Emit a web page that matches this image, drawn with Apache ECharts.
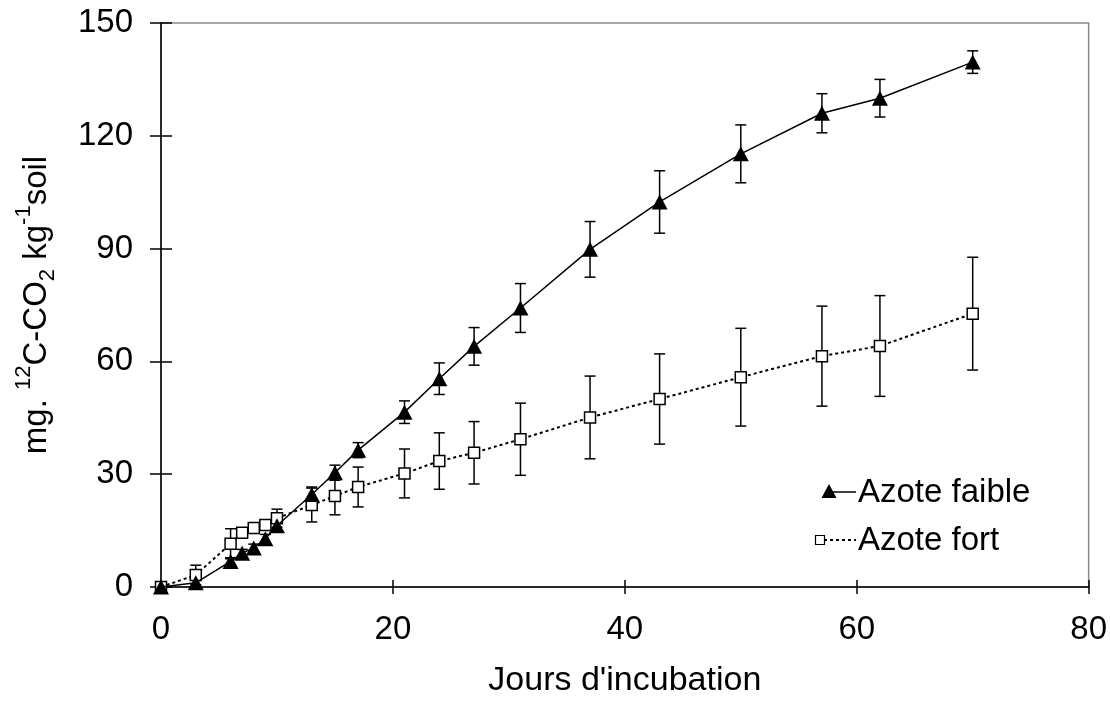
<!DOCTYPE html>
<html>
<head>
<meta charset="utf-8">
<script src="https://cdn.jsdelivr.net/npm/echarts@6/dist/echarts.min.js"></script>
<style>
html,body{margin:0;padding:0;background:#fff;}
#chart{width:1110px;height:716px;}
</style>
</head>
<body>
<div id="chart"></div>
<script>
const days = [0, 3, 6, 7, 8, 9, 10, 13, 15, 17, 21, 24, 27, 31, 37, 43, 50, 57, 62, 70];
const faible = [0, 1.1, 6.8, 9, 10.4, 12.8, 16.3, 24.6, 30.4, 36.4, 46.5, 55.4, 64, 74.2, 89.8, 102.4, 115.2, 126, 130, 139.6];
const faibleErr = [0, 1, 1, 1, 1, 1.2, 1.5, 2, 2, 2, 3, 4.2, 5, 6.5, 7.4, 8.3, 7.7, 5.2, 5, 3];
const fort = [0, 3.2, 11.5, 14.4, 15.7, 16.5, 18.3, 21.8, 24.2, 26.6, 30.2, 33.5, 35.7, 39.3, 45.1, 50, 55.8, 61.4, 64.1, 72.7];
const fortErr = [0, 2.6, 4, 1, 1, 1.2, 2.4, 4.5, 5, 5.3, 6.5, 7.5, 8.3, 9.6, 11, 12, 13, 13.3, 13.4, 15];
const xTicks = [0, 20, 40, 60, 80];
const yTicks = [0, 30, 60, 90, 120, 150];
const seriesNames = ['Azote faible', 'Azote fort'];

const FONT = '"Liberation Sans", Arial, sans-serif';
const chart = echarts.init(document.getElementById('chart'));

function errBars(vals, errs) {
  return days.map((d, i) => [d, vals[i], errs[i]]);
}
function renderErr(params, api) {
  const x = api.value(0), y = api.value(1), e = api.value(2);
  if (!e) return null;
  const t = api.coord([x, y + e]);
  const b = api.coord([x, y - e]);
  const hw = 5.5;
  const st = { stroke: '#000', lineWidth: 1.5 };
  return {
    type: 'group',
    children: [
      { type: 'line', shape: { x1: t[0], y1: t[1], x2: b[0], y2: b[1] }, style: st },
      { type: 'line', shape: { x1: t[0] - hw, y1: t[1], x2: t[0] + hw, y2: t[1] }, style: st },
      { type: 'line', shape: { x1: b[0] - hw, y1: b[1], x2: b[0] + hw, y2: b[1] }, style: st }
    ]
  };
}

const axisLbl = { fontFamily: FONT, fontSize: 33, color: '#000' };

const option = {
  animation: false,
  backgroundColor: '#fff',
  grid: { left: 161, right: 21, top: 23, bottom: 129, show: true, borderColor: '#8a8a8a', borderWidth: 1.5, backgroundColor: 'transparent' },
  xAxis: [
    {
      type: 'value', min: 0, max: 80, interval: 20,
      axisLine: { show: true, onZero: false, lineStyle: { color: '#000', width: 1.5 } },
      axisTick: { show: true, inside: false, length: 7, lineStyle: { color: '#000', width: 1.5 } },
      axisLabel: Object.assign({ margin: 26 }, axisLbl),
      splitLine: { show: false },
      name: 'Jours d\'incubation', nameLocation: 'middle', nameGap: 77,
      nameTextStyle: { fontFamily: FONT, fontSize: 34, color: '#000' }
    },
    {
      type: 'value', min: 0, max: 80, interval: 20, position: 'bottom',
      axisLine: { show: false },
      axisTick: { show: true, inside: true, length: 7, lineStyle: { color: '#000', width: 1.5 } },
      axisLabel: { show: false }, splitLine: { show: false }
    }
  ],
  yAxis: [
    {
      type: 'value', min: 0, max: 150, interval: 30,
      axisLine: { show: true, onZero: false, lineStyle: { color: '#000', width: 1.5 } },
      axisTick: { show: true, inside: false, length: 11, lineStyle: { color: '#000', width: 1.5 } },
      axisLabel: Object.assign({ margin: 28 }, axisLbl),
      splitLine: { show: false },
      name: '{n|mg. }{sup|12}{n|C-CO}{sub|2}{n| kg}{sup|-1}{n|soil}',
      nameLocation: 'middle', nameGap: 108, nameRotate: 90,
      nameTextStyle: {
        fontFamily: FONT, fontSize: 33, color: '#000',
        rich: {
          n: { fontFamily: FONT, fontSize: 33, color: '#000', lineHeight: 40, verticalAlign: 'bottom' },
          sup: { fontFamily: FONT, fontSize: 22, color: '#000', lineHeight: 40, verticalAlign: 'top' },
          sub: { fontFamily: FONT, fontSize: 22, color: '#000', lineHeight: 40, verticalAlign: 'bottom', padding: [0, 0, -6, 0] }
        }
      }
    },
    {
      type: 'value', min: 0, max: 150, interval: 30, position: 'left',
      axisLine: { show: false },
      axisTick: { show: true, inside: true, length: 11, lineStyle: { color: '#000', width: 1.5 } },
      axisLabel: { show: false }, splitLine: { show: false }
    }
  ],
  series: [
    {
      type: 'custom', name: 'errFaible', renderItem: renderErr, data: errBars(faible, faibleErr),
      xAxisIndex: 0, yAxisIndex: 0, z: 1, silent: true, clip: false
    },
    {
      type: 'custom', name: 'errFort', renderItem: renderErr, data: errBars(fort, fortErr),
      xAxisIndex: 0, yAxisIndex: 0, z: 1, silent: true, clip: false
    },
    {
      type: 'line', name: seriesNames[1], data: days.map((d, i) => [d, fort[i]]),
      symbol: 'rect', symbolSize: 11, showAllSymbol: true,
      lineStyle: { color: '#000', width: 2, type: [3, 3] },
      itemStyle: { color: '#fff', borderColor: '#000', borderWidth: 1.5 },
      z: 3
    },
    {
      type: 'line', name: seriesNames[0], data: days.map((d, i) => [d, faible[i]]),
      symbol: 'triangle', symbolSize: [16, 15], showAllSymbol: true,
      lineStyle: { color: '#000', width: 1.5 },
      itemStyle: { color: '#000', borderWidth: 0 },
      z: 4
    }
  ],
  graphic: [
    { type: 'line', shape: { x1: 830, y1: 492, x2: 856, y2: 492 }, style: { stroke: '#000', lineWidth: 1.5 } },
    { type: 'polygon', shape: { points: [[829, 484], [836.5, 498], [821.5, 498]] }, style: { fill: '#000' } },
    { type: 'text', left: 858, top: 476, style: { text: seriesNames[0], font: '33px ' + FONT, fill: '#000' } },
    { type: 'line', shape: { x1: 824, y1: 540, x2: 856, y2: 540 }, style: { stroke: '#000', lineWidth: 2, lineDash: [3, 3] } },
    { type: 'rect', shape: { x: 815.5, y: 535.5, width: 9, height: 9 }, style: { fill: '#fff', stroke: '#000', lineWidth: 1.2 } },
    { type: 'text', left: 858, top: 524, style: { text: seriesNames[1], font: '33px ' + FONT, fill: '#000' } }
  ]
};
chart.setOption(option);
</script>
</body>
</html>
